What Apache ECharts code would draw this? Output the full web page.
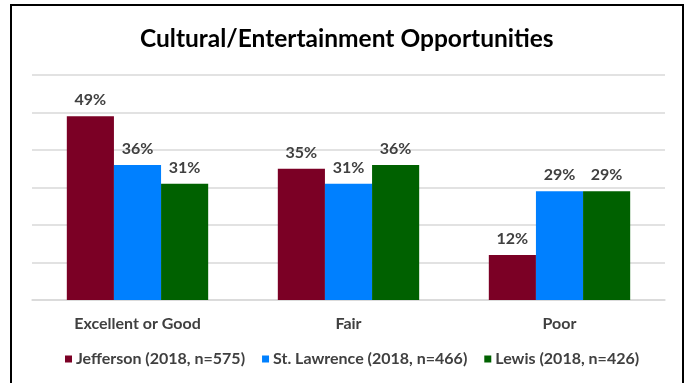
<!DOCTYPE html>
<html>
<head>
<meta charset="utf-8">
<script src="https://cdn.jsdelivr.net/npm/echarts@6/dist/echarts.min.js"></script>
<style>
  html, body { margin: 0; padding: 0; background: #fff; }
  #chart { width: 685px; height: 383px; }
</style>
</head>
<body>
<div id="chart"></div>
<script>
// Rating categories along the x axis
const categories = ['Excellent or Good', 'Fair', 'Poor'];

// Survey results by county (percent)
const jefferson = [49, 35, 12];
const stLawrence = [36, 31, 29];
const lewis = [31, 36, 29];

const seriesNames = [
  'Jefferson (2018, n=575)',
  'St. Lawrence (2018, n=466)',
  'Lewis (2018, n=426)'
];
const seriesColors = ['#7B0025', '#0080FF', '#006100'];

const FONT = 'Lato, "Open Sans", sans-serif';
const TEXT_GRAY = '#404040';

const chart = echarts.init(document.getElementById('chart'), null, { renderer: 'canvas' });

function barSeries(name, values, color) {
  return {
    name: name,
    type: 'bar',
    data: values,
    barGap: '0%',
    barCategoryGap: '33%',
    itemStyle: { color: color },
    label: {
      show: true,
      position: 'top',
      distance: 8,
      formatter: '{c}%',
      color: TEXT_GRAY,
      fontFamily: FONT,
      fontWeight: 'bold',
      fontSize: 16
    }
  };
}

chart.setOption({
  backgroundColor: '#fff',
  animation: false,
  title: {
    text: 'Cultural/Entertainment Opportunities',
    left: 135,
    top: 22,
    textStyle: {
      fontFamily: FONT,
      fontWeight: 'bold',
      fontSize: 24.5,
      color: '#000'
    }
  },
  legend: {
    bottom: 11,
    left: 60,
    itemWidth: 7,
    itemHeight: 7,
    itemGap: 17,
    icon: 'rect',
    textStyle: {
      fontFamily: FONT,
      fontWeight: 'bold',
      fontSize: 16,
      color: TEXT_GRAY,
      padding: [0, 0, 0, -1]
    },
    data: seriesNames
  },
  grid: { left: 32, right: 20, top: 75, bottom: 83 },
  xAxis: {
    type: 'category',
    data: categories,
    axisLine: { lineStyle: { color: '#d9d9d9', width: 1.5 } },
    axisTick: { show: false },
    axisLabel: {
      margin: 16,
      fontFamily: FONT,
      fontWeight: 'bold',
      fontSize: 16,
      color: TEXT_GRAY
    }
  },
  yAxis: {
    type: 'value',
    min: 0,
    max: 60,
    interval: 10,
    axisLabel: { show: false },
    axisLine: { show: false },
    axisTick: { show: false },
    splitLine: { lineStyle: { color: '#d9d9d9', width: 1.5 } }
  },
  series: [
    barSeries(seriesNames[0], jefferson, seriesColors[0]),
    barSeries(seriesNames[1], stLawrence, seriesColors[1]),
    barSeries(seriesNames[2], lewis, seriesColors[2])
  ],
  graphic: [
    {
      type: 'rect',
      silent: true,
      z: 100,
      shape: { x: 11, y: 5, width: 672, height: 400 },
      style: { fill: 'none', stroke: '#000', lineWidth: 2 }
    }
  ]
});
</script>
</body>
</html>
